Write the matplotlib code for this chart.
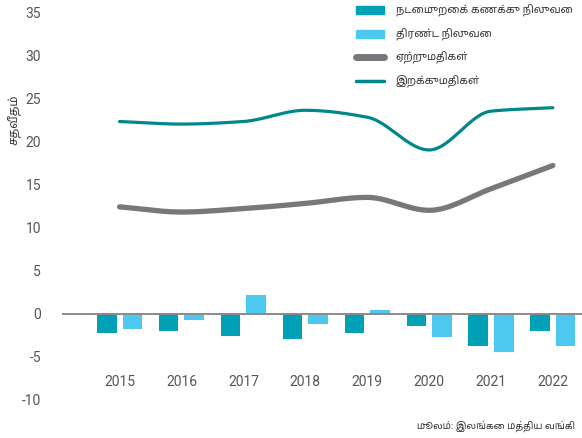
"""Current account, overall balance, exports and imports (% of GDP)."""
import numpy as np
import matplotlib
matplotlib.use('Agg')
import matplotlib.pyplot as plt
from matplotlib.patches import Patch
from matplotlib.lines import Line2D

years=['2015','2016','2017','2018','2019','2020','2021','2022']
current_account=[-2.2,-2.0,-2.6,-2.9,-2.2,-1.4,-3.7,-2.0]
overall_balance=[-1.8,-0.7,2.2,-1.2,0.4,-2.7,-4.4,-3.7]
exports=[12.4,11.8,12.2,12.8,13.5,12.0,14.5,17.2]
imports=[22.3,22.0,22.3,23.6,22.8,19.0,23.5,23.9]
labels=['நடைமுறைக் கணக்கு நிலுவை','திரண்ட நிலுவை','ஏற்றுமதிகள்','இறக்குமதிகள்']
ylabel='சதவீதம்'
source='மூலம்: இலங்கை மத்திய வங்கி'

TAMIL=['Noto Sans Tamil','DejaVu Sans']
NUM=['Roboto','DejaVu Sans']
C_DARK='#00a1b6'; C_LIGHT='#4dc8ef'; C_GREY='#77787b'; C_TEAL='#00878a'

def pchip(x,y,xs):
    """Monotone cubic through the points, only for drawing a smooth line."""
    x=np.asarray(x,float); y=np.asarray(y,float); h=np.diff(x); d=np.diff(y)/h; m=np.zeros_like(y)
    m[0]=d[0]; m[-1]=d[-1]
    for k in range(1,len(x)-1):
        if d[k-1]*d[k]>0:
            w1=2*h[k]+h[k-1]; w2=h[k]+2*h[k-1]; m[k]=(w1+w2)/(w1/d[k-1]+w2/d[k])
    i=np.clip(np.searchsorted(x,xs)-1,0,len(x)-2); t=(xs-x[i])/h[i]
    h00=2*t**3-3*t**2+1; h10=t**3-2*t**2+t; h01=-2*t**3+3*t**2; h11=t**3-t**2
    return h00*y[i]+h10*h[i]*m[i]+h01*y[i+1]+h11*h[i]*m[i+1]

W,H=582,438
fig=plt.figure(figsize=(W/100,H/100),dpi=100)
ax=fig.add_axes([62/W,1-400/H,(W-62)/W,388/H])
x=np.arange(len(years)); bw=0.315; off=0.206
ax.bar(x-off,current_account,bw,color=C_DARK,zorder=2)
ax.bar(x+off,overall_balance,bw,color=C_LIGHT,zorder=2)
ax.axhline(0,color='#8a8a8a',lw=1.4,zorder=3)
xs=np.linspace(0,len(years)-1,300)
ax.plot(xs,pchip(x,exports,xs),color=C_GREY,lw=3.8,solid_capstyle='round',zorder=4)
ax.plot(xs,pchip(x,imports,xs),color=C_TEAL,lw=2.3,solid_capstyle='round',zorder=4)
ax.set_xlim(-0.93,7.47); ax.set_ylim(-10,35)
ax.set_yticks(range(-10,36,5))
ax.set_yticklabels([str(v) for v in range(-10,36,5)],family=NUM,fontsize=10,color='#555555')
ax.tick_params(axis='y',length=0,pad=15)
ax.set_xticks([])
for s in ax.spines.values(): s.set_visible(False)
for xi,yr in zip(x,years):
    ax.text(xi,-7.9,yr,ha='center',va='center',family=NUM,fontsize=10,color='#555555')
fig.text(14/W,1-120/H,ylabel,rotation=90,ha='center',va='center',family=TAMIL,fontsize=8.5,color='#333333')
fig.text(575/W,1-426/H,source,ha='right',va='center',family=TAMIL,fontsize=6.8,color='#333333')
handles=[Patch(color=C_DARK),Patch(color=C_LIGHT),Line2D([],[],color=C_GREY,lw=5,solid_capstyle='round'),Line2D([],[],color=C_TEAL,lw=2.5,solid_capstyle='round')]
ax.legend(handles,labels,loc='upper left',bbox_to_anchor=(356/W,1-5/H),bbox_transform=fig.transFigure,frameon=False,borderpad=0,borderaxespad=0,handlelength=2.65,handleheight=0.85,handletextpad=1.1,labelspacing=1.05,prop={'family':TAMIL,'size':7.6})
for t in ax.get_legend().get_texts(): t.set_color('#333333')
fig.savefig('out.png',dpi=100)
